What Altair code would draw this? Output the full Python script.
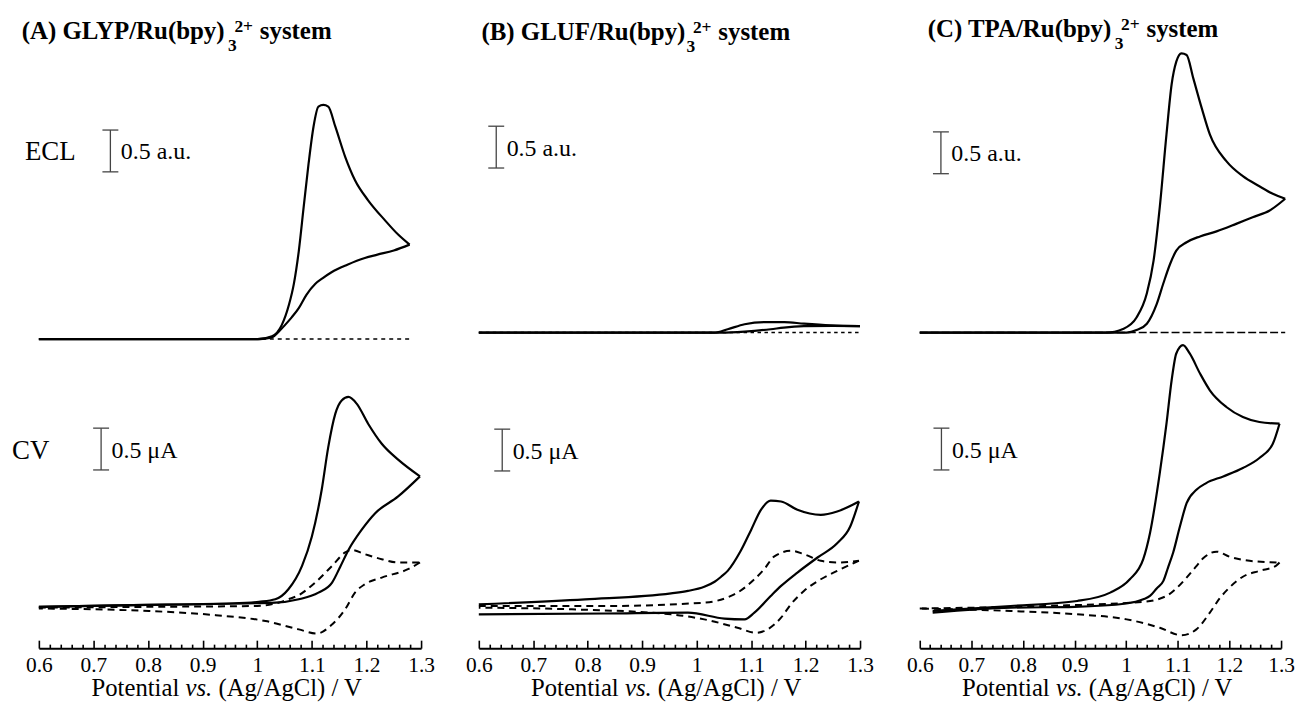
import altair as alt
import pandas as pd

FONT = "Liberation Serif"

# ---------------- axis ticks ----------------
TICKS_MAJOR = [0.6, 0.7, 0.8, 0.9, 1.0, 1.1, 1.2, 1.3]
TICKS_ALL = [0.6, 0.62, 0.64, 0.66, 0.68, 0.7, 0.72, 0.74, 0.76, 0.78,
             0.8, 0.82, 0.84, 0.86, 0.88, 0.9, 0.92, 0.94, 0.96, 0.98,
             1.0, 1.02, 1.04, 1.06, 1.08, 1.1, 1.12, 1.14, 1.16, 1.18,
             1.2, 1.22, 1.24, 1.26, 1.28, 1.3]

# ---------------- (A) GLYP ----------------
A_ECL_E = [0.6, 0.8, 1.0, 1.027, 1.045, 1.058, 1.067, 1.076, 1.085, 1.094, 1.103, 1.112, 1.121,
           1.13, 1.143, 1.161, 1.179, 1.203, 1.234, 1.258, 1.279,
           1.25, 1.22, 1.197, 1.165, 1.136, 1.12, 1.106, 1.09, 1.076, 1.063, 1.051, 1.038, 1.027,
           1.003, 0.8, 0.6]
A_ECL_I = [0, 0, 0, 0.035, 0.17, 0.41, 0.66, 1.05, 1.58, 2.10, 2.54, 2.78, 2.80,
           2.78, 2.54, 2.18, 1.90, 1.66, 1.42, 1.25, 1.13,
           1.06, 1.01, 0.97, 0.89, 0.80, 0.73, 0.66, 0.53, 0.37, 0.26, 0.17, 0.08, 0.02,
           0.0, 0, 0]
A_ECL_BLANK_E = [0.6, 1.28]
A_ECL_BLANK_I = [0, 0]
A_CV_E = [0.6, 0.772, 0.954, 1.003, 1.033, 1.057, 1.082, 1.1, 1.118, 1.13, 1.143, 1.155, 1.167,
          1.182, 1.203, 1.228, 1.258, 1.298,
          1.258, 1.216, 1.191, 1.167, 1.152, 1.137, 1.112, 1.076, 1.033, 0.954, 0.772, 0.6]
A_CV_I = [0.0, 0.02, 0.04, 0.06, 0.09, 0.21, 0.49, 0.84, 1.40, 1.91, 2.31, 2.47, 2.51,
          2.43, 2.19, 1.95, 1.76, 1.56,
          1.32, 1.12, 0.92, 0.68, 0.48, 0.29, 0.17, 0.09, 0.05, 0.04, 0.02, 0.0]
A_CV_BLANK_E = [0.6, 0.8, 1.0, 1.033, 1.057, 1.076, 1.106, 1.137, 1.161, 1.173, 1.197, 1.228,
                1.258, 1.298, 1.276, 1.228, 1.197, 1.179, 1.161, 1.137, 1.109, 1.076, 1.015,
                0.924, 0.802, 0.6]
A_CV_BLANK_I = [-0.01, 0.0, 0.01, 0.04, 0.09, 0.14, 0.29, 0.49, 0.65, 0.68, 0.63, 0.57,
                0.53, 0.53, 0.45, 0.35, 0.27, 0.17, -0.03, -0.21, -0.32, -0.27, -0.17,
                -0.10, -0.05, -0.02]

# ---------------- (B) GLUF ----------------
B_ECL_E = [0.6, 1.0, 1.033, 1.057, 1.088, 1.124, 1.161, 1.197, 1.246, 1.3,
           1.25, 1.197, 1.16, 1.136, 1.088, 1.045, 0.6]
B_ECL_I = [0, 0, 0.0, 0.04, 0.10, 0.125, 0.125, 0.106, 0.086, 0.078,
           0.08, 0.076, 0.06, 0.04, 0.012, 0.0, 0]
B_ECL_BLANK_E = [0.6, 1.3]
B_ECL_BLANK_I = [0, 0]
B_CV_E = [0.6, 0.795, 0.953, 0.984, 1.014, 1.033, 1.045, 1.057, 1.081, 1.1, 1.118, 1.136, 1.155,
          1.185, 1.228, 1.258, 1.298,
          1.282, 1.258, 1.222, 1.185, 1.155, 1.136, 1.106, 1.088, 1.051, 0.984, 0.832, 0.6]
B_CV_I = [0.03, 0.09, 0.16, 0.19, 0.24, 0.30, 0.36, 0.43, 0.67, 0.92, 1.16, 1.27, 1.26,
          1.16, 1.10, 1.14, 1.26,
          0.96, 0.76, 0.59, 0.41, 0.25, 0.13, -0.07, -0.15, -0.14, -0.07, -0.08, -0.09]
B_CV_BLANK_E = [0.6, 0.832, 1.014, 1.063, 1.075, 1.106, 1.124, 1.142, 1.173, 1.197, 1.228, 1.258,
                1.298, 1.258, 1.228, 1.197, 1.173, 1.155, 1.13, 1.109, 1.075, 1.014, 0.953,
                0.771, 0.6]
B_CV_BLANK_I = [0.01, 0.01, 0.05, 0.13, 0.17, 0.33, 0.45, 0.6, 0.67, 0.63, 0.55, 0.53,
                0.55, 0.43, 0.33, 0.19, 0.03, -0.13, -0.27, -0.31, -0.25, -0.15, -0.09,
                -0.03, -0.01]

# ---------------- (C) TPA ----------------
C_ECL_E = [0.6, 0.96, 0.995, 1.02, 1.04, 1.053, 1.065, 1.078, 1.088, 1.097, 1.107, 1.117, 1.13,
           1.146, 1.162, 1.194, 1.226, 1.258, 1.284, 1.308,
           1.278, 1.245, 1.213, 1.175, 1.143, 1.117, 1.097, 1.085, 1.072, 1.059, 1.04, 1.02,
           1.001, 0.6]
C_ECL_I = [0, 0, 0.047, 0.18, 0.47, 0.86, 1.50, 2.37, 2.97, 3.24, 3.34, 3.32, 3.04,
           2.69, 2.37, 2.05, 1.87, 1.75, 1.66, 1.60,
           1.46, 1.38, 1.30, 1.21, 1.15, 1.08, 0.98, 0.82, 0.59, 0.34, 0.106, 0.03,
           0, 0]
C_ECL_BLANK_E = [0.6, 1.308]
C_ECL_BLANK_I = [0, 0]
C_CV_E = [0.625, 0.776, 0.905, 0.969, 1.007, 1.033, 1.046, 1.065, 1.078, 1.088, 1.097, 1.11,
          1.123, 1.143, 1.162, 1.194, 1.226, 1.258, 1.297,
          1.284, 1.258, 1.226, 1.188, 1.155, 1.136, 1.117, 1.104, 1.091, 1.081, 1.072, 1.059,
          1.046, 1.033, 1.0, 0.9, 0.776, 0.625]
C_CV_I = [-0.05, 0.01, 0.07, 0.17, 0.33, 0.57, 0.88, 1.60, 2.19, 2.71, 3.03, 3.13,
          3.03, 2.79, 2.59, 2.39, 2.27, 2.21, 2.19,
          1.95, 1.78, 1.66, 1.56, 1.48, 1.40, 1.24, 0.96, 0.65, 0.47, 0.31, 0.22,
          0.13, 0.09, 0.04, 0.0, -0.01, -0.07]
C_CV_BLANK_E = [0.6, 0.84, 1.033, 1.078, 1.097, 1.117, 1.135, 1.149, 1.175, 1.2, 1.239, 1.297,
                1.29, 1.258, 1.226, 1.2, 1.181, 1.162, 1.136, 1.107, 1.065, 1.001, 0.905,
                0.776, 0.6]
C_CV_BLANK_I = [-0.02, 0.01, 0.06, 0.13, 0.22, 0.35, 0.48, 0.58, 0.66, 0.60, 0.55, 0.53,
                0.49, 0.43, 0.36, 0.23, 0.10, -0.07, -0.27, -0.34, -0.25, -0.15, -0.09,
                -0.05, -0.02]

# scale bars: potential position, bottom value, label
BAR_LABELS = ["0.5 a.u.", "0.5 \u03bcA"]
BAR_KINDS = ["ECL", "CV"]
A_BAR_E = [0.731, 0.714]
A_BAR_LO = [2.0, 1.637]
B_BAR_E = [0.632, 0.643]
B_BAR_LO = [1.968, 1.625]
C_BAR_E = [0.641, 0.642]
C_BAR_LO = [1.90, 1.637]
BAR_LEN = 0.5

# ---------------- layout ----------------
H = 604
YDOM = [-0.494, 6.696]
TITLE_FS = 25
SUB_FS = 17.5


def txt(t, x, y, size, weight="normal", style="normal", align="left"):
    return alt.Chart(pd.DataFrame({"k": [0]})).mark_text(
        text=t, font=FONT, fontSize=size, fontWeight=weight, fontStyle=style,
        align=align, baseline="alphabetic", color="black"
    ).encode(x=alt.value(x), y=alt.value(y))


def panel(W, ecl_off, curves, ecl_dash, bar_E, bar_lo, title, title_em, title_xy,
          left_ext, right_ext, side_labels=()):
    rows = []
    for name, kind, style, E, V in curves:
        k = max(range(len(E)), key=lambda j: E[j])  # turning point of the scan
        for part, idx in (("f", range(0, k + 1)), ("r", range(k, len(E)))):
            if len(idx) < 2:
                continue
            for n, j in enumerate(idx):
                rows.append({"E": E[j], "v": V[j], "kind": kind, "style": style,
                             "role": name, "series": name + "_" + part, "i": n})
    df = pd.DataFrame(rows)
    xs = alt.Scale(domain=[0.6, 1.3], nice=False, zero=False)
    ys = alt.Scale(domain=YDOM, nice=False, zero=False)
    base = alt.Chart(df).transform_calculate(
        yy=f"datum.kind == 'ECL' ? datum.v + {ecl_off} : datum.v"
    )

    label_axis = alt.Axis(orient="bottom", values=TICKS_MAJOR, format="~g", domain=True,
                          domainColor="black", domainWidth=2, ticks=False, tickSize=0,
                          labelFont=FONT, labelFontSize=21.5, labelColor="black", labelPadding=6,
                          labelFlush=False, labelOverlap=False, grid=False, title=None)
    tick_axis = alt.Axis(orient="top", offset=-H, values=TICKS_ALL, domain=False, labels=False,
                         ticks=True, tickColor="black", tickWidth=1.6,
                         tickSize={"condition": {"test": "abs(datum.value*10 - round(datum.value*10)) < 0.001",
                                                 "value": 8}, "value": 4},
                         grid=False, title=None)

    bounds = alt.Chart(pd.DataFrame({"k": [0]})).mark_rule(color="white", strokeWidth=1).encode(
        x=alt.value(left_ext), x2=alt.value(W + right_ext), y=alt.value(-35))

    ecl_blank = base.transform_filter("datum.role == 'ecl_blank'").mark_line(
        color="black", strokeWidth=1.5, strokeDash=ecl_dash).encode(
        x=alt.X("E:Q", scale=xs, axis=tick_axis),
        y=alt.Y("yy:Q", scale=ys, axis=None), detail="series:N", order="i:Q")
    cv_blank = base.transform_filter("datum.role == 'cv_blank'").mark_line(
        color="black", strokeWidth=2, strokeDash=[7, 5], interpolate="monotone").encode(
        x=alt.X("E:Q", axis=None), y=alt.Y("yy:Q", axis=None),
        detail="series:N", order="i:Q")
    solid = base.transform_filter("datum.style == 'solid'").mark_line(
        color="black", strokeWidth=2.2, interpolate="monotone").encode(
        x=alt.X("E:Q", axis=label_axis), y=alt.Y("yy:Q", axis=None),
        detail="series:N", order="i:Q")

    cap = 8 * 0.7 / W
    bdf = pd.DataFrame({"E": bar_E, "lo": bar_lo, "kind": BAR_KINDS, "label": BAR_LABELS})
    bb = alt.Chart(bdf).transform_calculate(
        lo2=f"(datum.kind == 'ECL' ? {ecl_off} : 0) + datum.lo",
        hi2=f"(datum.kind == 'ECL' ? {ecl_off} : 0) + datum.lo + {BAR_LEN}",
        mid=f"(datum.kind == 'ECL' ? {ecl_off} : 0) + datum.lo + {BAR_LEN / 2}",
        xl=f"datum.E - {cap}", xr=f"datum.E + {cap}")
    bar_v = bb.mark_rule(color="#444", strokeWidth=1.3).encode(
        x=alt.X("E:Q", axis=None), y=alt.Y("lo2:Q", axis=None), y2="hi2:Q")
    cap_lo = bb.mark_rule(color="#444", strokeWidth=1.3).encode(
        x=alt.X("xl:Q", axis=None), x2="xr:Q", y=alt.Y("lo2:Q", axis=None))
    cap_hi = bb.mark_rule(color="#444", strokeWidth=1.3).encode(
        x=alt.X("xl:Q", axis=None), x2="xr:Q", y=alt.Y("hi2:Q", axis=None))
    bar_t = bb.mark_text(align="left", baseline="alphabetic", dx=10.5, dy=8.5, font=FONT,
                         fontSize=24, color="black").encode(
        x=alt.X("E:Q", axis=None), y=alt.Y("mid:Q", axis=None), text="label:N")

    # title with subscript / superscript placed after the main text
    main, sub, sup, rest = title
    tx, ty = title_xy
    x1 = tx + title_em * TITLE_FS
    texts = [txt(main, tx, ty, TITLE_FS, weight="bold"),
             txt(sub, x1 + 1, ty + 12.5, SUB_FS, weight="bold"),
             txt(sup, x1 + 7.5, ty - 6.8, SUB_FS, weight="bold"),
             txt(rest, x1 + 33, ty, TITLE_FS, weight="bold")]

    # x-axis title with italic "vs."
    fs = 24.8
    w_pot, w_sp, w_vs, w_rest = 3.556 * fs, 0.25 * fs, 1.083 * fs, 5.833 * fs
    total = w_pot + w_sp + w_vs + w_sp + w_rest
    x0 = W / 2 - 3 - total / 2
    ay = 652
    texts += [txt("Potential", x0, ay, fs),
              txt("vs.", x0 + w_pot + w_sp, ay, fs, style="italic"),
              txt("(Ag/AgCl) / V", x0 + w_pot + w_sp + w_vs + w_sp, ay, fs)]
    for t, x, y in side_labels:
        texts.append(txt(t, x, y, 27))

    return alt.layer(bounds, ecl_blank, cv_blank, solid, bar_v, cap_lo, cap_hi, bar_t, *texts
                     ).resolve_axis(x="independent").properties(width=W, height=H)


def curves(ecl_E, ecl_I, eclb_E, eclb_I, cv_E, cv_I, cvb_E, cvb_I):
    return [("ecl", "ECL", "solid", ecl_E, ecl_I),
            ("ecl_blank", "ECL", "dash", eclb_E, eclb_I),
            ("cv", "CV", "solid", cv_E, cv_I),
            ("cv_blank", "CV", "dash", cvb_E, cvb_I)]


pA = panel(384, 3.202,
           curves(A_ECL_E, A_ECL_I, A_ECL_BLANK_E, A_ECL_BLANK_I, A_CV_E, A_CV_I,
                  A_CV_BLANK_E, A_CV_BLANK_I),
           [4, 4], A_BAR_E, A_BAR_LO,
           ("(A) GLYP/Ru(bpy)", "3", "2+", "system"), 8.25, (-17.3, -8),
           -28.5, 16.5,
           side_labels=[("ECL", -14, 113.3), ("CV", -27, 414.3)])

pB = panel(383, 3.28,
           curves(B_ECL_E, B_ECL_I, B_ECL_BLANK_E, B_ECL_BLANK_I, B_CV_E, B_CV_I,
                  B_CV_BLANK_E, B_CV_BLANK_I),
           [3.5, 3.5], B_BAR_E, B_BAR_LO,
           ("(B) GLUF/Ru(bpy)", "3", "2+", "system"), 8.195, (2.7, -7),
           -16.5, 16.5)

pC = panel(363, 3.28,
           curves(C_ECL_E, C_ECL_I, C_ECL_BLANK_E, C_ECL_BLANK_I, C_CV_E, C_CV_I,
                  C_CV_BLANK_E, C_CV_BLANK_I),
           [8, 3], C_BAR_E, C_BAR_LO,
           ("(C) TPA/Ru(bpy)", "3", "2+", "system"), 7.472, (8, -10),
           -16.5, 14)

inner = alt.hconcat(pA, pB, spacing=24)
chart = alt.hconcat(inner, pC, spacing=26).properties(
    padding={"left": 2, "top": 1.5, "right": 0, "bottom": 0},
    background="white"
).configure_view(stroke=None)

chart.save("out.html", embed_options={"renderer": "svg", "actions": False})
